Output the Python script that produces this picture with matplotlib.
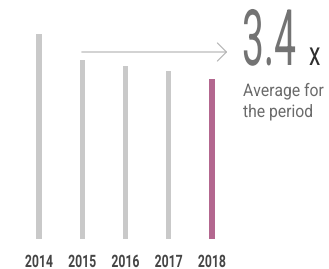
import matplotlib
matplotlib.use("Agg")
import matplotlib.pyplot as plt
from matplotlib.patheffects import AbstractPathEffect
from matplotlib.transforms import Affine2D

years = ["2014", "2015", "2016", "2017", "2018"]
values = [4.1, 3.58, 3.46, 3.36, 3.2]
bar_colors = ["#c9c9c9", "#c9c9c9", "#c9c9c9", "#c9c9c9", "#b3678f"]
big_value = "3.4"
big_unit = "x"
caption = "Average for\nthe period"


class Tall(AbstractPathEffect):
    """Stretch glyphs vertically from the baseline (imitates a condensed typeface)."""

    def __init__(self, sy):
        super().__init__()
        self.sy = sy

    def draw_path(self, renderer, gc, tpath, affine, rgbFace=None):
        renderer.draw_path(gc, tpath, Affine2D().scale(1, self.sy) + affine, rgbFace)


W, H = 329, 269
fig = plt.figure(figsize=(W / 100, H / 100), dpi=100)
fig.patch.set_facecolor("white")

fam = ["Roboto", "DejaVu Sans"]

left_px, right_px = 17.4, 233.6
bottom_px = 239
ax = fig.add_axes([left_px / W, (H - bottom_px) / H, (right_px - left_px) / W, bottom_px / H])
ax.set_xlim(-0.5, 4.5)
ymax = 4.1 * 239 / 205
ax.set_ylim(0, ymax)
ax.bar(range(len(years)), values, width=0.12, color=bar_colors)
ax.axis("off")

for i, y in enumerate(years):
    ax.text(i, -(267 - 239) / 239 * ymax, y, ha="center", va="baseline", fontsize=8.8,
            color="#454545", family=fam, fontweight="bold", clip_on=False,
            path_effects=[Tall(1.4)])

fig.add_artist(matplotlib.patches.FancyArrowPatch(
    (79 / W, (H - 52) / H), (230 / W, (H - 52) / H), transform=fig.transFigure,
    arrowstyle="->,head_length=0.65,head_width=0.65", mutation_scale=10,
    color="#b0b0b0", lw=0.8))

fig.text(242 / W, (H - 65) / H, big_value, fontsize=28, color="#737373",
         family=fam, ha="left", va="baseline", path_effects=[Tall(2.0)])
fig.text(309 / W, (H - 65) / H, big_unit, fontsize=16.5, color="#2e2e2e",
         family=fam, ha="left", va="baseline", path_effects=[Tall(1.45)])

for k, line in enumerate(caption.split("\n")):
    fig.text(243 / W, (H - 96 - 21 * k) / H, line, fontsize=11.3, color="#6a6a6a",
             family=fam, ha="left", va="baseline", path_effects=[Tall(1.1)])

fig.savefig("out.png", dpi=100, facecolor="white")
